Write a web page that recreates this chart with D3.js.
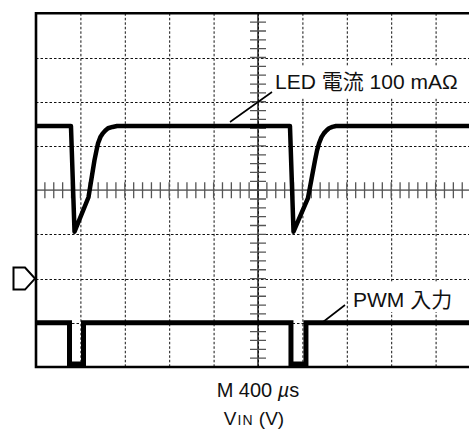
<!DOCTYPE html>
<html>
<head>
<meta charset="utf-8">
<script src="https://cdn.jsdelivr.net/npm/d3@7"></script>
<style>
  html, body { margin: 0; padding: 0; background: #fff; }
  svg { display: block; }
  text { font-family: "Liberation Sans", Arial, "Noto Sans CJK JP", sans-serif; fill: #111; }
</style>
</head>
<body>
<svg id="scope" width="469" height="438"></svg>
<script>
// Timebase: 400 µs per division, 10 divisions across the screen
const timePerDiv = 400;
const divsX = 10;
const divsY = 8;
const minorPerDiv = 5;

// LED current trace, 100 mA/div, referenced to the ground marker (-2 div)
const ledMaPerDiv = 100;
const ledGroundDiv = -2;
const ledTime = [0, 315, 347, 473, 500, 527, 545, 559, 580, 604, 625, 649, 690, 730,
                 2288, 2320, 2450, 2482, 2514, 2532, 2550, 2572, 2595, 2617, 2640, 2670, 2703, 4000];
const ledCurrent = [345, 345, 106, 184, 226, 268, 290, 306, 320, 329, 335, 340, 343, 345,
                    345, 106, 182, 225, 268, 290, 306, 320, 329, 335, 340, 343, 345, 345];

// PWM input trace (screen divisions from centre)
const pwmTime = [0, 302, 302, 428, 428, 2297, 2297, 2432, 2432, 4000];
const pwmLevel = [-3.0, -3.0, -3.93, -3.93, -3.0, -3.0, -3.93, -3.93, -3.0, -3.0];

const labels = {
  led: "LED 電流 100 mAΩ",
  pwm: "PWM 入力",
  timebase: "M 400 ",
  timeUnit: "µs",
  vin: ["V", "IN", " (V)"]
};

const svg = d3.select("#scope");
const x = d3.scaleLinear().domain([0, timePerDiv * divsX]).range([36, 480]);
const y = d3.scaleLinear().domain([-divsY / 2, divsY / 2]).range([367, 13.3]);
const W = 469;

const plot = svg.append("g");
plot.append("clipPath").attr("id", "screen")
  .append("rect").attr("x", x(0)).attr("y", y(4)).attr("width", W - x(0)).attr("height", y(-4) - y(4));

// Dashed graticule
const grid = plot.append("g").attr("clip-path", "url(#screen)")
  .attr("stroke", "#111").attr("stroke-width", 1).attr("stroke-dasharray", "2.5,2");
grid.selectAll("line.v").data(d3.range(1, divsX)).join("line")
  .attr("x1", d => x(d * timePerDiv) + 0.5).attr("x2", d => x(d * timePerDiv) + 0.5)
  .attr("y1", y(4)).attr("y2", y(-4));
grid.selectAll("line.h").data(d3.range(-divsY / 2 + 1, divsY / 2)).join("line")
  .attr("x1", x(0)).attr("x2", W)
  .attr("y1", d => Math.round(y(d)) + 0.5).attr("y2", d => Math.round(y(d)) + 0.5);

// Centre axes with minor ticks
const axes = plot.append("g").attr("clip-path", "url(#screen)");
const xMinor = d3.range(1, divsX * minorPerDiv).map(i => i * timePerDiv / minorPerDiv);
const yMinor = d3.range(-divsY / 2 * minorPerDiv + 1, divsY / 2 * minorPerDiv).map(i => i / minorPerDiv);
const cx = x(timePerDiv * divsX / 2), cy = y(0);
axes.append("line").attr("x1", x(0)).attr("x2", W).attr("y1", cy).attr("y2", cy)
  .attr("stroke", "#777").attr("stroke-width", 1.6);
axes.selectAll("line.xt").data(xMinor).join("line")
  .attr("x1", d => x(d)).attr("x2", d => x(d)).attr("y1", cy - 8).attr("y2", cy + 8)
  .attr("stroke", "#555").attr("stroke-width", 1.3);
axes.append("line").attr("x1", cx).attr("x2", cx).attr("y1", y(4)).attr("y2", y(-4))
  .attr("stroke", "#111").attr("stroke-width", 1.4);
axes.selectAll("line.yt").data(yMinor).join("line")
  .attr("x1", cx - 8).attr("x2", cx + 8).attr("y1", d => y(d)).attr("y2", d => y(d))
  .attr("stroke", "#555").attr("stroke-width", 1.3);

// Traces
const traces = plot.append("g").attr("clip-path", "url(#screen)");
const ledLine = d3.line()
  .x((d, i) => x(ledTime[i]))
  .y(d => y(d / ledMaPerDiv + ledGroundDiv));
traces.append("path").datum(ledCurrent)
  .attr("d", ledLine).attr("fill", "none").attr("stroke", "#000")
  .attr("stroke-width", 4.5).attr("stroke-linejoin", "round");
const pwmLine = d3.line()
  .x((d, i) => x(pwmTime[i]))
  .y(d => y(d));
traces.append("path").datum(pwmLevel)
  .attr("d", pwmLine).attr("fill", "none").attr("stroke", "#000")
  .attr("stroke-width", 5).attr("stroke-linejoin", "miter");

// Screen frame (left, top, bottom)
const frame = plot.append("g").attr("stroke", "#000").attr("stroke-width", 2.6).attr("fill", "none");
frame.append("path").attr("d", `M${W},${y(4)}H${x(0)}V${y(-4)}H${W}`);

// Ground reference marker
const gy = y(ledGroundDiv);
svg.append("path")
  .attr("d", `M13.5,${gy - 11}H25L${x(0) - 1},${gy}L25,${gy + 11}H13.5Z`)
  .attr("fill", "#fff").attr("stroke", "#000").attr("stroke-width", 2);

// Trace labels with leader lines
svg.append("rect").attr("x", 270).attr("y", 67).attr("width", 192).attr("height", 31).attr("fill", "#fff");
svg.append("text").attr("x", 275).attr("y", 88.5).attr("font-size", 21).text(labels.led);
svg.append("line").attr("x1", 230).attr("y1", 122).attr("x2", 272).attr("y2", 92)
  .attr("stroke", "#000").attr("stroke-width", 1.6);

svg.append("rect").attr("x", 351).attr("y", 282).attr("width", 108).attr("height", 30).attr("fill", "#fff");
svg.append("text").attr("x", 353).attr("y", 306.5).attr("font-size", 21).text(labels.pwm);
svg.append("line").attr("x1", 323).attr("y1", 322).attr("x2", 345).attr("y2", 305)
  .attr("stroke", "#000").attr("stroke-width", 1.6);

// Timebase and axis caption
const tb = svg.append("text").attr("x", cx).attr("y", 396.5).attr("font-size", 20).attr("text-anchor", "middle");
tb.append("tspan").text(labels.timebase);
tb.append("tspan").attr("font-style", "italic").text(labels.timeUnit[0]);
tb.append("tspan").text(labels.timeUnit.slice(1));

const vin = svg.append("text").attr("x", 254).attr("y", 425).attr("font-size", 19).attr("text-anchor", "middle");
vin.append("tspan").text(labels.vin[0]);
vin.append("tspan").attr("font-size", 14).attr("dx", 1).attr("letter-spacing", 1).text(labels.vin[1]);
vin.append("tspan").text(labels.vin[2]);
</script>
</body>
</html>
